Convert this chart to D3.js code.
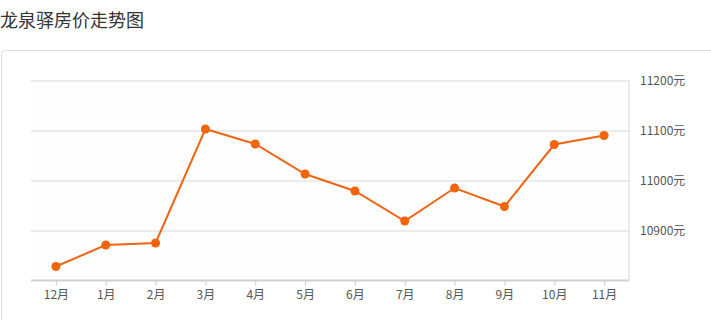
<!DOCTYPE html>
<html>
<head>
<meta charset="utf-8">
<script src="https://cdn.jsdelivr.net/npm/d3@7/dist/d3.min.js"></script>
<style>
  body { margin: 0; background: #fff; font-family: "Noto Sans CJK SC", "Open Sans", sans-serif; }
  #chart { width: 711px; height: 320px; }
</style>
</head>
<body>
<div id="chart"></div>
<script>
// chart data
const title = '龙泉驿房价走势图';
const months = ['12月', '1月', '2月', '3月', '4月', '5月', '6月', '7月', '8月', '9月', '10月', '11月'];
const prices = [10828, 10871, 10875, 11103, 11073, 11013, 10979, 10919, 10985, 10948, 11072, 11090];
const yTicks = [10900, 11000, 11100, 11200];
const yDomain = [10800, 11200];

const W = 711, H = 320;
const margin = { top: 80.5, right: 82, bottom: 39.5, left: 31 };
const width = W - margin.left - margin.right;
const height = H - margin.top - margin.bottom;

const svg = d3.select('#chart')
  .append('svg')
    .attr('width', W)
    .attr('height', H);

// title
svg.append('text')
  .attr('x', 0)
  .attr('y', 27)
  .text(title)
  .style('font-size', '18px')
  .style('fill', '#333');

// card border
svg.append('rect')
  .attr('x', 1.5)
  .attr('y', 50.5)
  .attr('width', W + 20)
  .attr('height', H)
  .attr('rx', 4)
  .attr('fill', '#fff')
  .attr('stroke', '#dcdcdc');

const g = svg.append('g')
  .attr('transform', `translate(${margin.left},${margin.top})`);

// plot background
g.append('rect')
  .attr('width', width)
  .attr('height', height)
  .attr('fill', '#fefefe');

const x = d3.scalePoint()
  .domain(months)
  .range([0, width])
  .padding(0.5);

const y = d3.scaleLinear()
  .domain(yDomain)
  .range([height, 0]);

// horizontal gridlines
g.append('g')
  .call(d3.axisLeft(y).tickValues(yTicks).tickSize(-width).tickFormat(() => ''))
  .call(a => a.select('.domain').remove())
  .selectAll('line')
    .style('stroke', '#d9d9d9');

// right edge line
g.append('line')
  .attr('x1', width).attr('x2', width)
  .attr('y1', 0).attr('y2', height)
  .style('stroke', '#d9d9d9');

// right axis labels
g.append('g')
  .attr('transform', `translate(${width},0)`)
  .call(d3.axisRight(y).tickValues(yTicks).tickSize(0).tickPadding(11).tickFormat(d => d + '元'))
  .call(a => a.select('.domain').remove())
  .selectAll('text')
    .style('fill', '#555')
    .style('font-size', '12px')
    .style('font-family', '"Noto Sans CJK SC", sans-serif');

// bottom axis
const xAxis = g.append('g')
  .attr('transform', `translate(0,${height})`)
  .call(d3.axisBottom(x).tickSize(5).tickPadding(5))
  .call(a => a.select('.domain').remove());
xAxis.selectAll('line').style('stroke', '#ccc');
xAxis.selectAll('text')
  .style('fill', '#555')
  .style('font-size', '12px')
  .style('font-family', '"Noto Sans CJK SC", sans-serif');

g.append('line')
  .attr('x1', 0).attr('x2', width)
  .attr('y1', height).attr('y2', height)
  .style('stroke', '#d0d0d0')
  .style('stroke-width', 2);

// the line
g.append('path')
  .datum(prices)
  .attr('fill', 'none')
  .attr('stroke', '#ee6513')
  .attr('stroke-width', 2)
  .attr('d', d3.line()
    .x((d, i) => x(months[i]))
    .y(d => y(d)));

// points
g.selectAll('.pt')
  .data(prices)
  .join('circle')
    .attr('class', 'pt')
    .attr('cx', (d, i) => x(months[i]))
    .attr('cy', d => y(d))
    .attr('r', 4.5)
    .attr('fill', '#f2630a');
</script>
</body>
</html>
